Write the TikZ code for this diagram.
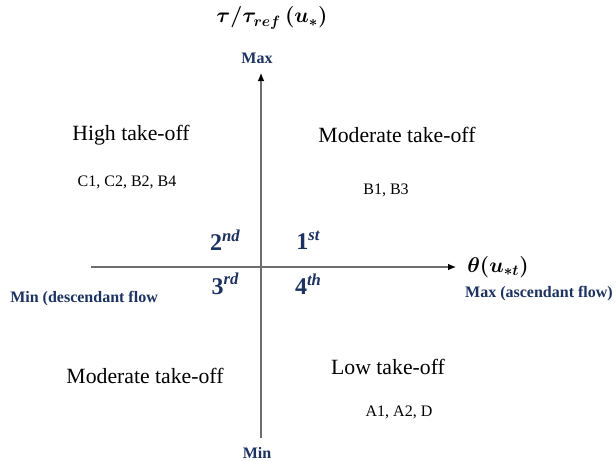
\documentclass[tikz,border=0pt]{standalone}
\usepackage{fix-cm}
\usepackage{amsmath,bm}
\usepackage{fontspec}
\setmainfont{Liberation Serif}
\usetikzlibrary{arrows.meta}
\definecolor{navy}{RGB}{28,50,96}
\definecolor{axisgray}{RGB}{110,110,110}
\newcommand{\ordsup}[2]{#1\raisebox{0.85ex}{\fontsize{12.5}{14}\selectfont\itshape #2}}
\tikzset{
  quad/.style={font=\fontsize{16.3}{19}\selectfont, inner sep=0pt},
  codes/.style={font=\fontsize{12}{14}\selectfont, inner sep=0pt},
  bluelab/.style={font=\fontsize{12}{14}\selectfont\bfseries, text=navy, inner sep=0pt},
  ordinal/.style={font=\fontsize{18}{20}\selectfont\bfseries, text=navy, inner sep=0pt},
  axislab/.style={font=\fontsize{16}{19}\selectfont\boldmath, inner sep=0pt},
  axisline/.style={draw=axisgray, line width=0.8pt, -{Latex[length=6pt,width=5pt,black]}}
}
\begin{document}
\begin{tikzpicture}[x=0.75pt,y=-0.75pt]
\useasboundingbox[fill=white] (0,0) rectangle (616,460);
\coordinate (xstart) at (91,267);
\coordinate (xend) at (456,267);
\coordinate (ystart) at (261,438);
\coordinate (yend) at (261,73);
\draw[axisline] (xstart) -- (xend);
\draw[axisline] (ystart) -- (yend);

\node[axislab] (ylab) at (272,18) {$\bm{\tau/\tau_{ref}\,(u_*)}$};
\node[axislab, anchor=west] (xlab) at (467,267) {$\bm{\theta(u_{*t})}$};

\node[bluelab] (ymax) at (257,58) {Max};
\node[bluelab] (ymin) at (257,453) {Min};
\node[bluelab, anchor=west] (xmin) at (10,299) {Min (descendant flow};
\node[bluelab, anchor=east] (xmax) at (613,294) {Max (ascendant flow)};

\node[quad] (q2) at (131,135) {High take-off};
\node[codes] (q2c) at (127,182) {C1, C2, B2, B4};
\node[quad] (q1) at (397,135) {Moderate take-off};
\node[codes] (q1c) at (386,190) {B1, B3};
\node[quad] (q3) at (145,376) {Moderate take-off};
\node[quad] (q4) at (388,367) {Low take-off};
\node[codes] (q4c) at (399,412) {A1, A2, D};

\node[ordinal] (o2) at (225,240) {\ordsup{2}{nd}};
\node[ordinal] (o1) at (308,240) {\ordsup{1}{st}};
\node[ordinal] (o3) at (225,284) {\ordsup{3}{rd}};
\node[ordinal] (o4) at (308,284) {\ordsup{4}{th}};
\end{tikzpicture}
\end{document}
